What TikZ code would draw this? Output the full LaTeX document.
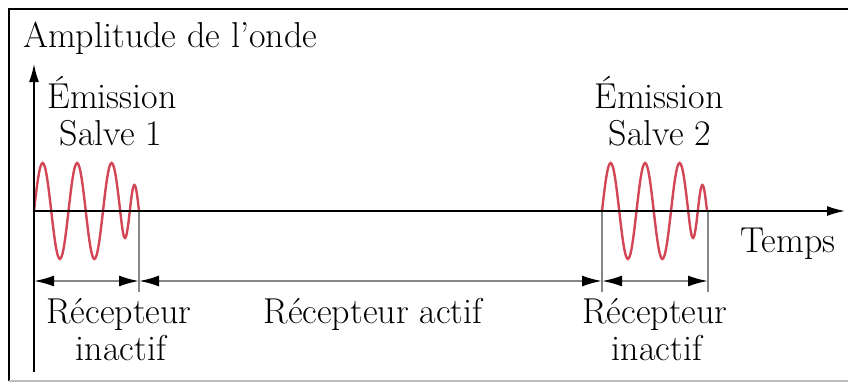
\documentclass[tikz,border=0pt]{standalone}
\usetikzlibrary{arrows.meta}
\definecolor{wavered}{RGB}{210,70,85}
\definecolor{guidegray}{RGB}{135,135,135}
\definecolor{framegray}{RGB}{190,190,190}
\begin{document}
\begin{tikzpicture}[x=1pt,y=-1pt,
  lbl/.style={font=\fontsize{36}{40}\selectfont, inner sep=0pt, anchor=base},
  axis/.style={line width=1.6pt, -{Latex[length=18pt,width=10pt]}},
  guide/.style={draw=guidegray, line width=1.8pt},
  dimarrow/.style={draw=guidegray, line width=2pt,
    {Latex[length=20pt,width=11pt,color=black]}-{Latex[length=20pt,width=11pt,color=black]}},
  wave/.style={draw=wavered, line width=2.4pt}]
\useasboundingbox (0,0) rectangle (848,383);
\fill[white] (0,0) rectangle (848,383);
% frame
\draw[line width=2pt] (9,381) -- (9,9) -- (848,9);
\draw[framegray, line width=1.5pt] (9,381) -- (848,381);

% key points
\coordinate (O) at (34,211);
\coordinate (ytop) at (34,64);
\coordinate (ybot) at (34,372);
\coordinate (xend) at (845,211);
\coordinate (w1e) at (139,211);
\coordinate (w2s) at (602,211);
\coordinate (w2e) at (708,211);
\coordinate (g1) at (139,292);
\coordinate (g2) at (602,292);
\coordinate (g3) at (708,292);
\coordinate (d0) at (34,281);
\coordinate (d1) at (139,281);
\coordinate (d2) at (602,281);
\coordinate (d3) at (708,281);

% guides
\draw[guide] (w1e) -- (g1);
\draw[guide] (w2s) -- (g2);
\draw[guide] (w2e) -- (g3);

% waves
\draw[wave] (O) sin ++(8.6,-48) cos ++(8.65,48) sin ++(8.65,48) cos ++(8.6,-48)
  sin ++(8.6,-48) cos ++(8.65,48) sin ++(8.65,48) cos ++(8.6,-48)
  sin ++(8.6,-48) cos ++(8.6,48) sin ++(4.8,27) cos ++(4.8,-27)
  sin ++(4.6,-26) cos ++(4.6,26);
\draw[wave] (w2s) sin ++(8.6,-48) cos ++(8.65,48) sin ++(8.65,48) cos ++(8.6,-48)
  sin ++(8.6,-48) cos ++(8.65,48) sin ++(8.65,48) cos ++(8.6,-48)
  sin ++(8.6,-48) cos ++(8.6,48) sin ++(4.8,27) cos ++(4.8,-27)
  sin ++(4.6,-26) cos ++(4.6,26);

% axes
\draw[axis] (ybot) -- (ytop);
\draw[axis] (O) -- (xend);

% dimension arrows
\draw[dimarrow] (d0) -- (d1);
\draw[dimarrow] (d1) -- (d2);
\draw[dimarrow] (d2) -- (d3);

% labels
\node[lbl, anchor=base west] (amp) at (23,47) {Amplitude de l’onde};
\node[lbl] (em1) at (112,108) {Émission};
\node[lbl] (s1) at (111,145) {Salve 1};
\node[lbl] (em2) at (659,108) {Émission};
\node[lbl] (s2) at (660,145) {Salve 2};
\node[lbl] (temps) at (788,252) {Temps};
\node[lbl] (r1) at (119,323) {Récepteur};
\node[lbl] (i1) at (121,360) {inactif};
\node[lbl] (ra) at (373,323) {Récepteur actif};
\node[lbl] (r2) at (655,323) {Récepteur};
\node[lbl] (i2) at (657,360) {inactif};
\end{tikzpicture}
\end{document}
